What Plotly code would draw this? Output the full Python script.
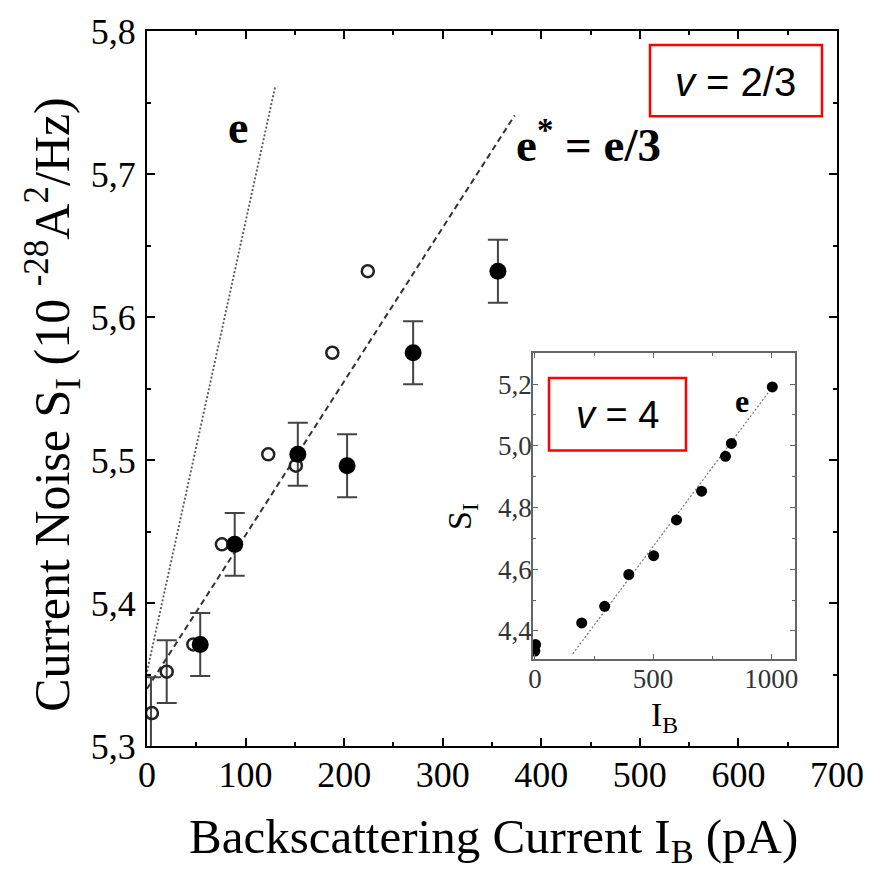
import plotly.graph_objects as go

# ---------------- data ----------------
# main panel, nu = 2/3
filled_x = [54, 89, 153, 203, 270, 356]
filled_y = [5.371, 5.441, 5.504, 5.496, 5.575, 5.632]

open_x = [5, 20, 47, 76, 123, 151, 188, 224]
open_y = [5.323, 5.352, 5.371, 5.441, 5.504, 5.496, 5.575, 5.632]

err_x = [4, 20, 54, 89, 153, 203, 270, 356]
err_y = [5.323, 5.352, 5.371, 5.441, 5.504, 5.496, 5.575, 5.632]
err_v = [0.025, 0.022, 0.022, 0.022, 0.022, 0.022, 0.022, 0.022]

line_e_x = [0, 130]
line_e_y = [5.352, 5.761]
line_estar_x = [0, 373]
line_estar_y = [5.340, 5.741]

x_ticks = [0, 100, 200, 300, 400, 500, 600, 700]
x_ticktext = ["0", "100", "200", "300", "400", "500", "600", "700"]
y_ticks = [5.3, 5.4, 5.5, 5.6, 5.7, 5.8]
y_ticktext = ["5,3", "5,4", "5,5", "5,6", "5,7", "5,8"]

# inset, nu = 4
inset_x = [0, 3, 198, 295, 397, 502, 599, 705, 806, 831, 1004]
inset_y = [4.335, 4.356, 4.426, 4.480, 4.583, 4.644, 4.760, 4.853, 4.966, 5.008, 5.191]
inset_line_x = [160, 1004]
inset_line_y = [4.326, 5.190]

inset_x_ticks = [0, 500, 1000]
inset_x_ticktext = ["0", "500", "1000"]
inset_y_ticks = [4.4, 4.6, 4.8, 5.0, 5.2]
inset_y_ticktext = ["4,4", "4,6", "4,8", "5,0", "5,2"]

# ---------------- layout helpers ----------------
W, H = 882, 869
L, R, T, B = 147, 837, 25, 746   # plot-area pixel box


def px(x):
    return (x - L) / (R - L)


def py(y):
    return (B - y) / (B - T)


SERIF = "Liberation Serif"
SANS = "Liberation Sans"

fig = go.Figure()

# lines
fig.add_trace(go.Scatter(x=line_e_x, y=line_e_y, mode="lines",
                         line=dict(color="#555555", width=1.8, dash="2px,2px"),
                         showlegend=False, hoverinfo="skip"))
fig.add_trace(go.Scatter(x=line_estar_x, y=line_estar_y, mode="lines",
                         line=dict(color="#333333", width=2, dash="6px,4px"),
                         showlegend=False, hoverinfo="skip"))

# error bars
fig.add_trace(go.Scatter(x=err_x, y=err_y, mode="markers",
                         marker=dict(size=1, color="rgba(0,0,0,0)"),
                         error_y=dict(type="data", array=err_v, visible=True,
                                      color="#444444", thickness=2, width=10),
                         showlegend=False, hoverinfo="skip"))

# open circles
fig.add_trace(go.Scatter(x=open_x, y=open_y, mode="markers",
                         marker=dict(symbol="circle-open", size=12, color="#222222",
                                     line=dict(width=2.5, color="#222222")),
                         showlegend=False))
# filled circles
fig.add_trace(go.Scatter(x=filled_x, y=filled_y, mode="markers",
                         marker=dict(symbol="circle", size=17, color="black"),
                         showlegend=False))

# inset
fig.add_trace(go.Scatter(x=inset_line_x, y=inset_line_y, mode="lines",
                         line=dict(color="#777777", width=1.2, dash="2px,2px"),
                         xaxis="x2", yaxis="y2", showlegend=False, hoverinfo="skip"))
fig.add_trace(go.Scatter(x=inset_x, y=inset_y, mode="markers",
                         marker=dict(symbol="circle", size=11, color="black"),
                         xaxis="x2", yaxis="y2", showlegend=False))

axis_common = dict(showgrid=False, zeroline=False, showline=True, mirror="ticks",
                   linecolor="black", linewidth=2, ticks="inside", ticklen=8,
                   tickwidth=1.5, tickcolor="black")

inset_common = dict(showgrid=False, zeroline=False, showline=True, mirror="ticks",
                    linecolor="#666666", linewidth=1.5, ticks="inside", ticklen=5,
                    tickwidth=1, tickcolor="#666666",
                    tickfont=dict(family=SERIF, size=27, color="#333333"))

fig.update_layout(
    width=W, height=H, autosize=False,
    margin=dict(l=L, r=W - R, t=T, b=H - B, pad=0),
    paper_bgcolor="white", plot_bgcolor="white",
    xaxis=dict(range=[0, 700], tickvals=x_ticks, ticktext=x_ticktext,
               tickfont=dict(family=SERIF, size=36, color="black"),
               minor=dict(ticks="inside", dtick=50, ticklen=4, tickcolor="black"),
               ticklabelstandoff=-4, **axis_common),
    yaxis=dict(range=[5.3, 5.8], tickvals=y_ticks, ticktext=y_ticktext,
               tickfont=dict(family=SERIF, size=36, color="black"),
               minor=dict(ticks="inside", dtick=0.05, ticklen=4, tickcolor="black"),
               ticklabelstandoff=2, **axis_common),
    xaxis2=dict(domain=[px(533), px(795)], anchor="y2", range=[-8, 1100],
                tickvals=inset_x_ticks, ticktext=inset_x_ticktext,
                minor=dict(ticks="inside", dtick=250, ticklen=3, tickcolor="#666666"),
                ticklabelstandoff=-5, **inset_common),
    yaxis2=dict(domain=[py(658), py(350)], anchor="x2", range=[4.31, 5.30],
                tickvals=inset_y_ticks, ticktext=inset_y_ticktext,
                minor=dict(ticks="inside", dtick=0.1, ticklen=3, tickcolor="#666666"),
                ticklabelstandoff=-6, **inset_common),
)

ann = []


def add_text(text, x, y, size, family=SERIF, angle=0, color="black"):
    ann.append(dict(text=text, x=px(x), y=py(y), xref="paper", yref="paper",
                    xanchor="center", yanchor="middle", showarrow=False,
                    textangle=angle, font=dict(family=family, size=size, color=color)))


add_text("Backscattering Current I<sub>B</sub> (pA)", 493, 840, 49)
add_text("Current Noise S<sub>I</sub> (10 <sup>-28</sup>A<sup>2</sup>/Hz)", 53, 402, 50, angle=-90)
add_text("<b>e</b>", 238, 122, 46)
add_text("<b>e<sup>*</sup> = e/3</b>", 588, 136, 47)
add_text("<i>v</i> = 2/3", 735, 76, 40, family=SANS)
add_text("<i>v</i> = 4", 617, 412, 38, family=SANS)
add_text("<b>e</b>", 742, 398, 32)
add_text("S<sub>I</sub>", 462, 515, 34, angle=-90)
add_text("I<sub>B</sub>", 664, 717, 34)

fig.update_layout(annotations=ann)

fig.update_layout(shapes=[
    dict(type="rect", xref="paper", yref="paper",
         x0=px(650), x1=px(822), y0=py(111), y1=py(39),
         line=dict(color="red", width=2.5), fillcolor="rgba(0,0,0,0)"),
    dict(type="rect", xref="paper", yref="paper",
         x0=px(549), x1=px(686), y0=py(448), y1=py(375),
         line=dict(color="red", width=2.5), fillcolor="rgba(0,0,0,0)"),
])

fig.write_html("out.html")
